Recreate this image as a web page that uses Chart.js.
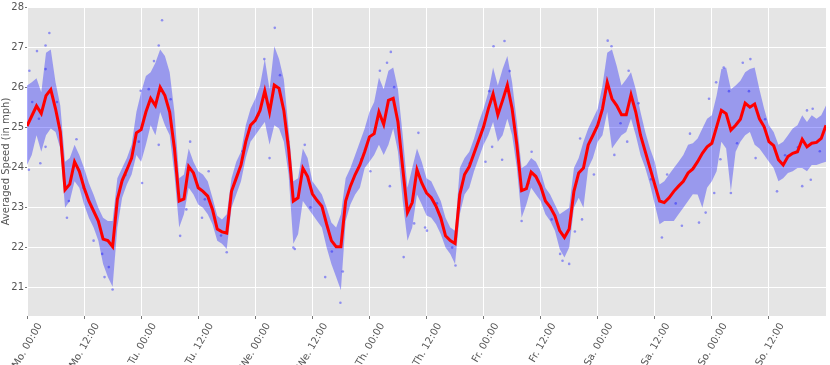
<!DOCTYPE html>
<html>
<head>
<meta charset="utf-8">
<script src="https://cdn.jsdelivr.net/npm/chart.js@4"></script>
<style>
  html, body { margin: 0; padding: 0; background: #fff; }
  #wrap { width: 830px; height: 365px; }
</style>
</head>
<body>
<div id="wrap"><canvas id="speedChart" width="830" height="365"></canvas></div>
<script>
// x ticks every 12 hours over the week
const tickHours = [0, 12, 24, 36, 48, 60, 72, 84, 96, 108, 120, 132, 144, 156];
const tickLabels = ["Mo. 00:00","Mo. 12:00","Tu. 00:00","Tu. 12:00","We. 00:00","We. 12:00",
  "Th. 00:00","Th. 12:00","Fr. 00:00","Fr. 12:00","Sa. 00:00","Sa. 12:00","So. 00:00","So. 12:00"];
const yTicks = [21, 22, 23, 24, 25, 26, 27, 28];

// hourly mean speed (hour 0..168)
const meanSpeed = [
  25.03,25.28,25.53,25.34,25.79,25.94,25.46,24.88,23.44,23.58,24.14,23.90,23.49,23.16,22.91,22.66,22.21,22.17,22.02,23.20,
  23.67,23.94,24.23,24.86,24.94,25.38,25.72,25.54,26.00,25.79,25.38,24.47,23.16,23.21,24.02,23.86,23.49,23.40,23.28,22.95,
  22.46,22.39,22.36,23.40,23.73,24.06,24.64,25.05,25.17,25.42,25.91,25.38,26.05,25.97,25.42,24.47,23.16,23.24,23.98,23.77,
  23.34,23.17,23.03,22.58,22.17,22.02,22.02,23.16,23.53,23.82,24.06,24.39,24.76,24.84,25.38,25.07,25.67,25.72,25.13,23.98,
  22.87,23.12,23.94,23.61,23.36,23.24,23.03,22.74,22.29,22.17,22.10,23.32,23.82,24.02,24.35,24.68,25.01,25.46,25.83,25.31,
  25.67,26.05,25.46,24.56,23.42,23.47,23.88,23.77,23.53,23.16,23.01,22.79,22.42,22.25,22.46,23.40,23.86,23.98,24.56,24.80,
  25.05,25.46,26.12,25.71,25.54,25.31,25.31,25.81,25.38,24.80,24.39,23.98,23.57,23.16,23.12,23.24,23.40,23.53,23.65,23.86,
  23.96,24.14,24.35,24.51,24.60,25.01,25.42,25.34,24.93,25.05,25.20,25.60,25.50,25.58,25.21,25.01,24.64,24.54,24.19,24.06,
  24.27,24.35,24.39,24.70,24.51,24.60,24.62,24.72,25.05
];

// upper / lower edge of the spread band
const upperBand = [
  26.04,26.12,26.22,25.87,26.86,26.94,26.12,25.54,24.14,24.23,24.56,24.31,23.98,23.61,23.32,22.99,22.74,22.66,22.66,23.73,
  23.98,24.23,24.56,25.38,25.87,26.28,26.37,26.61,26.94,26.78,26.37,25.38,23.73,23.82,24.47,24.14,23.90,23.82,23.65,23.24,
  22.79,22.70,22.83,23.73,24.14,24.39,25.05,25.46,25.71,26.04,26.70,25.95,27.02,26.70,26.20,24.97,23.65,23.73,24.47,24.23,
  23.65,23.49,23.32,22.99,22.62,22.50,22.83,23.73,23.98,24.31,24.64,24.97,25.38,25.63,26.24,25.95,26.41,26.49,25.95,24.80,
  23.49,23.98,24.47,24.14,23.73,23.65,23.40,23.16,22.74,22.50,22.42,23.98,24.23,24.39,24.72,25.13,25.46,25.87,26.49,26.04,
  26.45,26.78,26.12,25.13,23.98,24.06,24.23,24.14,23.90,23.49,23.32,23.07,22.83,22.91,22.99,23.98,24.23,24.64,24.97,25.21,
  25.46,26.04,26.86,26.94,26.53,26.04,26.20,26.37,25.95,25.38,24.88,24.47,24.14,23.57,23.65,23.82,23.98,24.14,24.31,24.56,
  24.60,24.72,24.97,25.21,25.30,25.79,26.45,26.49,25.95,26.04,26.16,26.37,26.45,26.49,25.95,25.46,25.05,24.88,24.56,24.64,
  24.80,24.97,25.05,25.30,25.13,25.30,25.21,25.30,25.54
];
const lowerBand = [
  24.06,24.31,24.80,24.39,24.80,24.97,24.88,24.47,22.99,23.16,23.65,23.49,23.07,22.74,22.50,22.17,21.59,21.26,21.02,22.50,
  23.24,23.57,23.82,24.31,24.14,24.56,25.05,24.80,25.38,25.05,24.80,23.82,22.50,22.83,23.49,23.32,23.07,22.99,22.83,22.58,
  22.17,22.09,21.96,22.99,23.32,23.65,24.23,24.64,24.80,24.97,25.13,24.56,25.05,24.97,24.64,23.82,22.09,22.33,23.16,22.99,
  22.83,22.66,22.50,22.00,21.59,21.26,20.93,22.66,23.07,23.32,23.49,23.98,24.14,24.31,24.56,24.31,24.56,24.97,24.39,23.16,
  22.17,22.50,23.32,23.07,22.80,22.74,22.58,22.33,22.00,21.84,21.59,22.83,23.32,23.49,23.90,24.23,24.56,24.80,25.13,24.64,
  24.80,25.21,24.80,23.98,22.74,23.07,23.49,23.32,23.16,22.83,22.66,22.42,21.96,21.75,22.00,22.99,23.24,22.99,23.98,24.23,
  24.64,24.80,25.38,24.47,24.64,24.80,24.88,25.21,24.80,24.31,23.98,23.57,23.07,22.58,22.66,22.66,22.66,22.83,22.99,23.16,
  23.33,23.32,22.99,23.49,23.65,23.90,24.64,24.47,23.40,24.39,24.64,24.80,24.88,24.56,24.47,24.31,24.14,23.98,23.65,23.73,
  23.86,23.90,23.98,23.98,23.90,24.06,24.06,24.10,24.14
];

// single observations (hour, speed): outliers first, then some inside the band
const dotHours = [
  4.7,3.9,2.1,0.5,0.4,2.8,3.9,8.4,10.4,14.0,16.3,18.0,24.2,27.7,26.7,23.9,
  28.4,27.7,32.2,36.8,34.3,38.2,42.0,52.1,49.9,51.0,54.9,56.0,
  56.3,58.4,62.7,65.9,76.5,75.7,74.2,76.3,79.2,82.3,83.7,72.2,
  98.1,100.4,90.1,104.0,99.9,96.4,97.8,84.1,106.1,112.1,
  122.1,122.9,126.5,123.5,126.2,116.7,114.0,112.6,119.2,133.5,137.7,134.6,139.4,116.3,
  141.3,142.7,150.5,152.1,146.5,148.0,144.9,143.4,153.2,157.7,163.0,164.8,164.0,165.2,144.5,
  1.1,2.5,6.3,3.9,8.8,11.9,15.8,17.2,20.7,23.5,25.6,
  30.2,33.5,37.4,40.8,45.3,48.6,53.2,
  59.6,64.1,66.4,70.3,73.8,77.2,81.4,
  86.2,89.4,93.1,97.2,101.5,105.4,110.3,
  115.2,121.3,124.8,128.6,131.2,136.4,
  145.8,147.6,149.3,151.8,155.2,159.4,162.1,166.7
];
const dotSpeeds = [
  27.35,27.04,26.90,26.41,23.94,24.10,24.51,22.74,24.70,22.17,21.26,20.95,23.61,24.56,26.65,25.91,
  27.67,27.04,22.29,22.74,24.64,23.90,21.88,27.48,26.70,24.23,24.64,22.00,
  21.96,24.56,21.26,20.62,26.88,26.61,26.41,23.53,21.76,24.86,22.50,23.90,
  27.02,27.15,21.55,22.66,24.19,24.14,24.51,22.42,24.39,21.84,
  27.16,27.02,26.41,24.31,24.64,22.70,21.59,21.67,23.82,22.25,22.54,23.82,24.84,24.72,
  22.62,22.87,26.61,26.70,26.49,23.36,26.12,25.71,24.23,23.40,23.53,23.69,25.42,25.46,23.36,
  25.63,25.21,25.63,26.45,23.16,23.49,21.84,21.51,23.81,24.64,25.95,
  25.70,22.95,23.20,22.30,24.40,25.30,26.30,
  23.00,21.90,21.40,24.20,25.20,26.00,22.60,
  23.10,22.00,24.10,25.90,26.40,23.60,22.70,
  22.40,25.70,25.10,25.60,23.70,23.10,
  24.20,25.90,24.60,25.90,25.20,24.30,24.50,24.40
];

const toXY = arr => arr.map((v, i) => ({ x: i, y: v }));
const dots = dotHours.map((h, i) => ({ x: h, y: dotSpeeds[i] }));

// grey plot background like the ggplot style
const plotBg = {
  id: "plotBg",
  beforeDraw(chart) {
    const { ctx, chartArea: a } = chart;
    ctx.save();
    ctx.fillStyle = "#e5e5e5";
    ctx.fillRect(a.left, a.top, a.right - a.left, a.bottom - a.top);
    ctx.restore();
  }
};

const font = { family: "'DejaVu Sans', sans-serif", size: 10 };

new Chart(document.getElementById("speedChart"), {
  type: "line",
  data: {
    datasets: [
      { data: toXY(meanSpeed), borderColor: "#ff0000", borderWidth: 3, pointRadius: 0, fill: false },
      { data: dots, showLine: false, pointRadius: 1.3, pointBorderWidth: 0,
        pointBackgroundColor: "rgba(0,0,255,0.38)", borderColor: "rgba(0,0,0,0)" },
      { data: toXY(upperBand), borderWidth: 0, pointRadius: 0, fill: "+1",
        backgroundColor: "rgba(0,0,255,0.33)", borderColor: "rgba(0,0,0,0)" },
      { data: toXY(lowerBand), borderWidth: 0, pointRadius: 0, fill: false, borderColor: "rgba(0,0,0,0)" }
    ]
  },
  options: {
    responsive: false,
    animation: false,
    layout: { padding: { top: 4, right: 0, left: 0, bottom: 0 } },
    plugins: { legend: { display: false }, tooltip: { enabled: false } },
    elements: { line: { tension: 0 } },
    scales: {
      x: {
        type: "linear", min: 0, max: 168,
        afterBuildTicks: s => { s.ticks = tickHours.map(v => ({ value: v })); },
        afterFit: s => { s.height = 49; s.paddingLeft = 0; s.paddingRight = 0; },
        grid: { color: "#ffffff", lineWidth: 1, tickLength: 3, tickColor: "#777" },
        border: { display: false },
        ticks: {
          autoSkip: false, minRotation: 60, maxRotation: 60, labelOffset: 13, padding: 2,
          color: "#555", font,
          callback: v => tickLabels[tickHours.indexOf(v)]
        }
      },
      y: {
        min: 20.29, max: 28,
        afterBuildTicks: s => { s.ticks = yTicks.map(v => ({ value: v })); },
        afterFit: s => { s.width = 27; },
        grid: { color: "#ffffff", lineWidth: 1, tickLength: 2, tickColor: "#777" },
        border: { display: false },
        title: { display: true, text: "Averaged Speed (in mph)", color: "#555", font, padding: 0 },
        ticks: { color: "#555", font, padding: 1, callback: v => String(v) }
      }
    }
  },
  plugins: [plotBg]
});
</script>
</body>
</html>
